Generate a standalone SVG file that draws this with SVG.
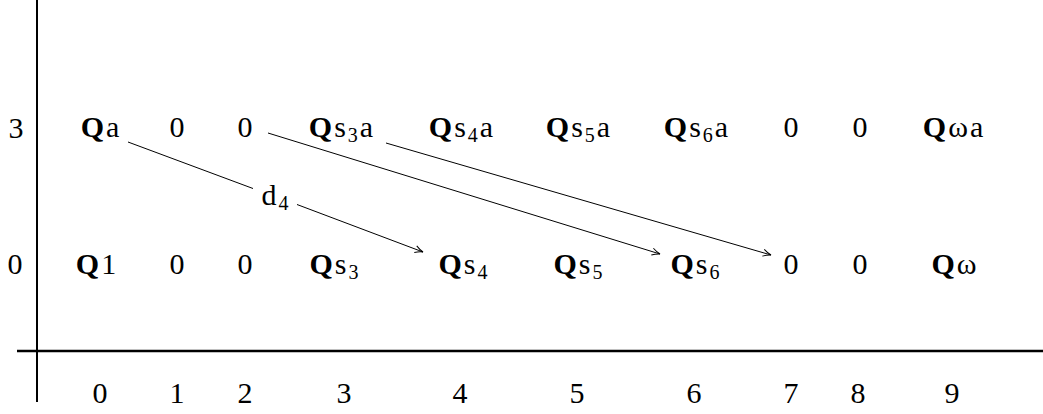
<svg xmlns="http://www.w3.org/2000/svg" width="1043" height="414" viewBox="0 0 1043 414">
  <style>
    text { font-family: "Liberation Serif", "DejaVu Serif", serif; font-size: 30px; fill: #000; text-anchor: middle; }
    .w { letter-spacing: 2px; }
    .b { font-weight: bold; }
    .sub { font-size: 20px; }
    .axis { stroke: #000; fill: none; }
    .edge { stroke: #000; stroke-width: 1; fill: none; marker-end: url(#head); }
  </style>
  <defs>
    <marker id="head" viewBox="0 0 10 10" refX="9" refY="5" markerWidth="10" markerHeight="10" markerUnits="userSpaceOnUse" orient="auto">
      <path d="M1,1.5 Q5,4 9,5 Q5,6 1,8.5" fill="none" stroke="#000" stroke-width="1"/>
    </marker>
  </defs>

  <!-- axes -->
  <g id="axes">
    <line class="axis" x1="37" y1="0" x2="37" y2="402" stroke-width="2"/>
    <line class="axis" x1="17" y1="351" x2="1043" y2="351" stroke-width="2.5"/>
  </g>

  <!-- row labels -->
  <g id="row-labels">
    <text x="16" y="138">3</text>
    <text x="15" y="274">0</text>
  </g>

  <!-- column labels -->
  <g id="col-labels">
    <text x="100" y="403">0</text>
    <text x="177" y="403">1</text>
    <text x="245" y="403">2</text>
    <text x="344" y="403">3</text>
    <text x="460" y="403">4</text>
    <text x="577" y="403">5</text>
    <text x="694" y="403">6</text>
    <text x="791" y="403">7</text>
    <text x="858" y="403">8</text>
    <text x="952" y="403">9</text>
  </g>

  <!-- degree 3 row -->
  <g id="r3c0"><text class="w" x="101" y="137"><tspan class="b">Q</tspan>a</text></g>
  <g id="r3c1"><text x="177" y="137">0</text></g>
  <g id="r3c2"><text x="245" y="137">0</text></g>
  <g id="r3c3"><text class="w" x="342" y="137"><tspan class="b">Q</tspan>s<tspan class="sub" dy="5">3</tspan><tspan dy="-5">a</tspan></text></g>
  <g id="r3c4"><text class="w" x="462" y="137"><tspan class="b">Q</tspan>s<tspan class="sub" dy="5">4</tspan><tspan dy="-5">a</tspan></text></g>
  <g id="r3c5"><text class="w" x="579" y="137"><tspan class="b">Q</tspan>s<tspan class="sub" dy="5">5</tspan><tspan dy="-5">a</tspan></text></g>
  <g id="r3c6"><text class="w" x="697" y="137"><tspan class="b">Q</tspan>s<tspan class="sub" dy="5">6</tspan><tspan dy="-5">a</tspan></text></g>
  <g id="r3c7"><text x="791" y="137">0</text></g>
  <g id="r3c8"><text x="860" y="137">0</text></g>
  <g id="r3c9"><text class="w" x="954" y="137"><tspan class="b">Q</tspan>ωa</text></g>

  <!-- degree 0 row -->
  <g id="r0c0"><text class="w" x="97" y="274"><tspan class="b">Q</tspan>1</text></g>
  <g id="r0c1"><text x="177" y="274">0</text></g>
  <g id="r0c2"><text x="245" y="274">0</text></g>
  <g id="r0c3"><text class="w" x="335" y="274"><tspan class="b">Q</tspan>s<tspan class="sub" dy="5">3</tspan></text></g>
  <g id="r0c4"><text class="w" x="464" y="274"><tspan class="b">Q</tspan>s<tspan class="sub" dy="5">4</tspan></text></g>
  <g id="r0c5"><text class="w" x="579" y="274"><tspan class="b">Q</tspan>s<tspan class="sub" dy="5">5</tspan></text></g>
  <g id="r0c6"><text class="w" x="696" y="274"><tspan class="b">Q</tspan>s<tspan class="sub" dy="5">6</tspan></text></g>
  <g id="r0c7"><text x="791" y="274">0</text></g>
  <g id="r0c8"><text x="860" y="274">0</text></g>
  <g id="r0c9"><text class="w" x="955" y="274"><tspan class="b">Q</tspan>ω</text></g>

  <!-- differentials -->
  <g id="connectors">
    <line x1="128" y1="142" x2="253" y2="188.5" stroke="#000" stroke-width="1"/>
    <line class="edge" x1="297" y1="204.5" x2="423" y2="252"/>
    <line class="edge" x1="268" y1="133" x2="660" y2="254"/>
    <line class="edge" x1="386" y1="143" x2="771" y2="255"/>
    <text class="w" x="276" y="205">d<tspan class="sub" dy="5">4</tspan></text>
  </g>
</svg>
